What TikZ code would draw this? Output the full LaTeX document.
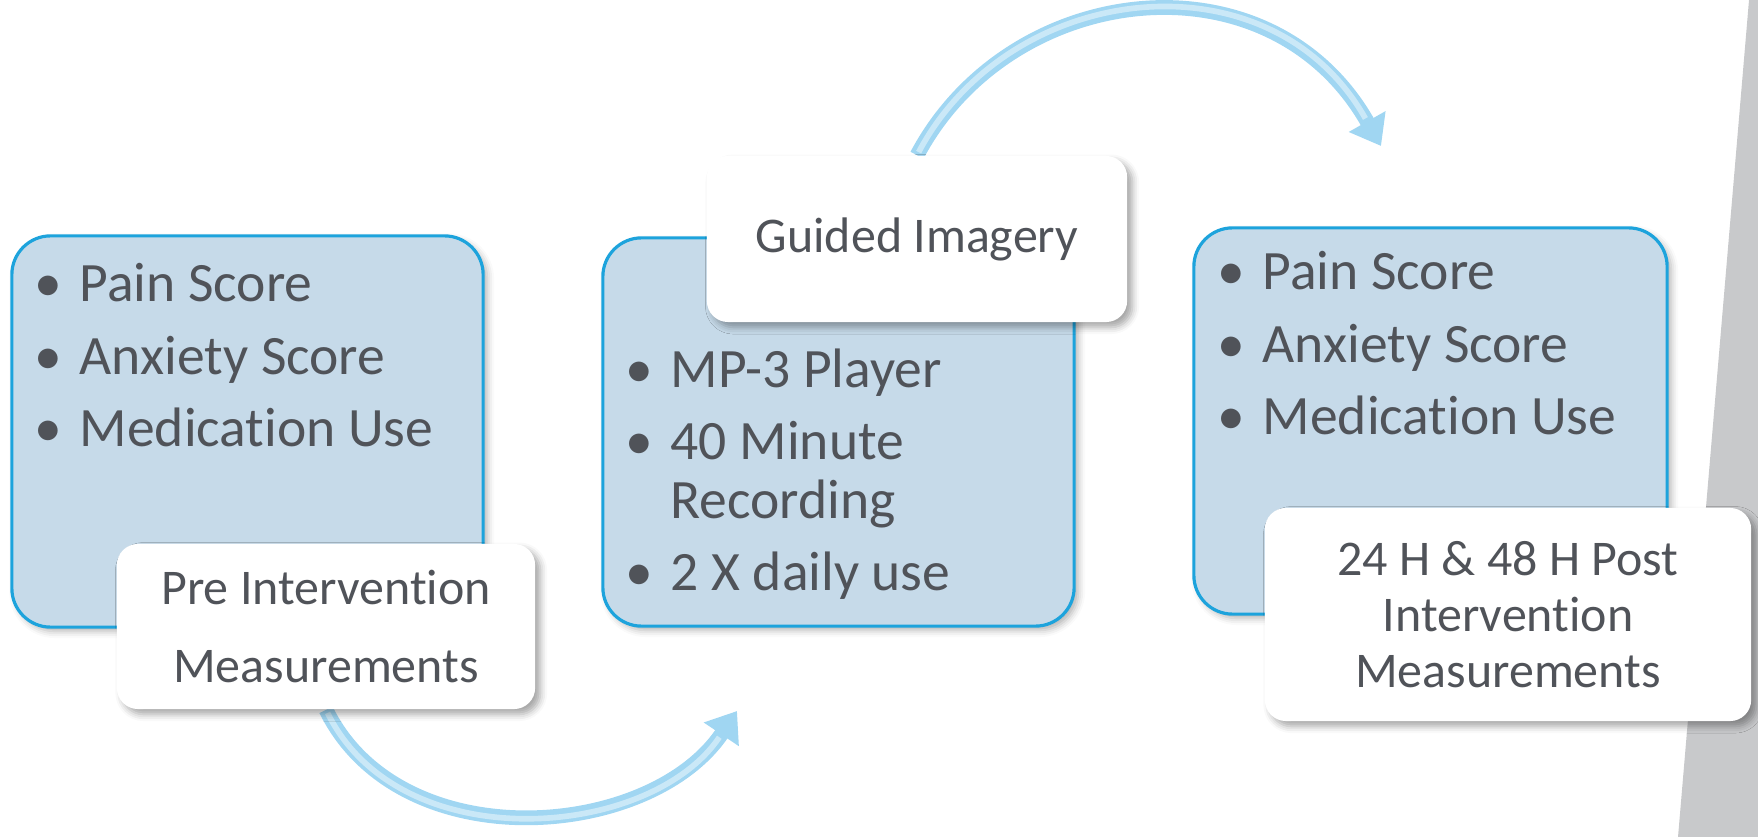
\documentclass[tikz,border=0pt]{standalone}
\usepackage{fontspec}
\setmainfont{Carlito}[RawFeature={-liga;-clig;-calt;-dlig}]
\usetikzlibrary{arrows.meta,positioning,shadows.blur,backgrounds}

\definecolor{boxfill}{RGB}{198,218,233}
\definecolor{boxline}{RGB}{29,163,220}
\definecolor{txtgrey}{RGB}{80,83,89}
\definecolor{arrowblue}{RGB}{160,214,242}
\definecolor{sidegrey}{RGB}{200,201,203}

% bullet with fixed indent
\newcommand{\blt}{\makebox[12.8pt][l]{\textbullet}}

\begin{document}
\begin{tikzpicture}[x=0.01cm, y=-0.01cm,
    stage/.style={draw=boxline, line width=0.9pt, fill=boxfill, rounded corners=11pt, inner sep=0pt,
        blur shadow={shadow xshift=1.2pt, shadow yshift=-1.2pt, shadow opacity=30, shadow blur steps=4}},
    tag/.style={fill=white, rounded corners=6pt, inner sep=0pt, align=center, text=txtgrey,
        font=\fontsize{14.2}{16}\selectfont,
        blur shadow={shadow xshift=1.5pt, shadow yshift=-1.5pt, shadow opacity=35, shadow blur steps=4}},
    items/.style={anchor=base west, inner sep=0pt, text=txtgrey, font=\fontsize{15.8}{17}\selectfont},
    flow/.style={line width=4.2pt, draw=arrowblue, -{Triangle[length=8pt,width=11.5pt]},
        postaction={draw=white, draw opacity=0.45, line width=1.6pt, arrows=-, shorten >=9pt, shorten <=1pt}}
]
\useasboundingbox (0,0) rectangle (1758,837);

% grey strip on the right
\fill[sidegrey] (1749,0) -- (1758,0) -- (1758,837) -- (1678,837) -- cycle;

% the three stages
\node[stage, minimum width=4.71cm, minimum height=3.91cm] (pre) at (247.5,431.5) {};
\node[stage, minimum width=4.71cm, minimum height=3.88cm] (mid) at (838.5,432) {};
\node[stage, minimum width=4.73cm, minimum height=3.86cm] (post) at (1430.5,421) {};

\node[items] (prelist) at (34,302) {\begin{tabular}[t]{@{}l@{}l@{}}
    \blt & Pain Score\\[3.5pt]
    \blt & Anxiety Score\\[3.5pt]
    \blt & Medication Use
\end{tabular}};
\node[items] (midlist) at (625,387) {\begin{tabular}[t]{@{}l@{}l@{}}
    \blt & MP-3 Player\\[3.5pt]
    \blt & 40 Minute\\
         & Recording\\[3.5pt]
    \blt & 2 X daily use
\end{tabular}};
\node[items] (postlist) at (1217,290) {\begin{tabular}[t]{@{}l@{}l@{}}
    \blt & Pain Score\\[3.5pt]
    \blt & Anxiety Score\\[3.5pt]
    \blt & Medication Use
\end{tabular}};

% labels on top of the stages
\node[tag, minimum width=4.18cm, minimum height=1.65cm, font=\fontsize{14.2}{22.2}\selectfont] (prelbl) at (326,626.5) {Pre Intervention\\Measurements};
\node[tag, minimum width=4.20cm, minimum height=1.66cm] (guided) at (917,239) {Guided Imagery};
\node[tag, minimum width=4.86cm, minimum height=2.13cm] (postlbl) at (1508,614.5) {24 H \& 48 H Post\\Intervention\\Measurements};

\coordinate (tipA) at (737,711);
\coordinate (tipB) at (1381,146);

\begin{scope}[on background layer]
\draw[flow] (prelbl.south) .. controls (400,860) and (650,840) .. (tipA);
\draw[flow] (guided.north) .. controls (1010,-20) and (1270,-50) .. (tipB);
\end{scope}
\end{tikzpicture}
\end{document}
